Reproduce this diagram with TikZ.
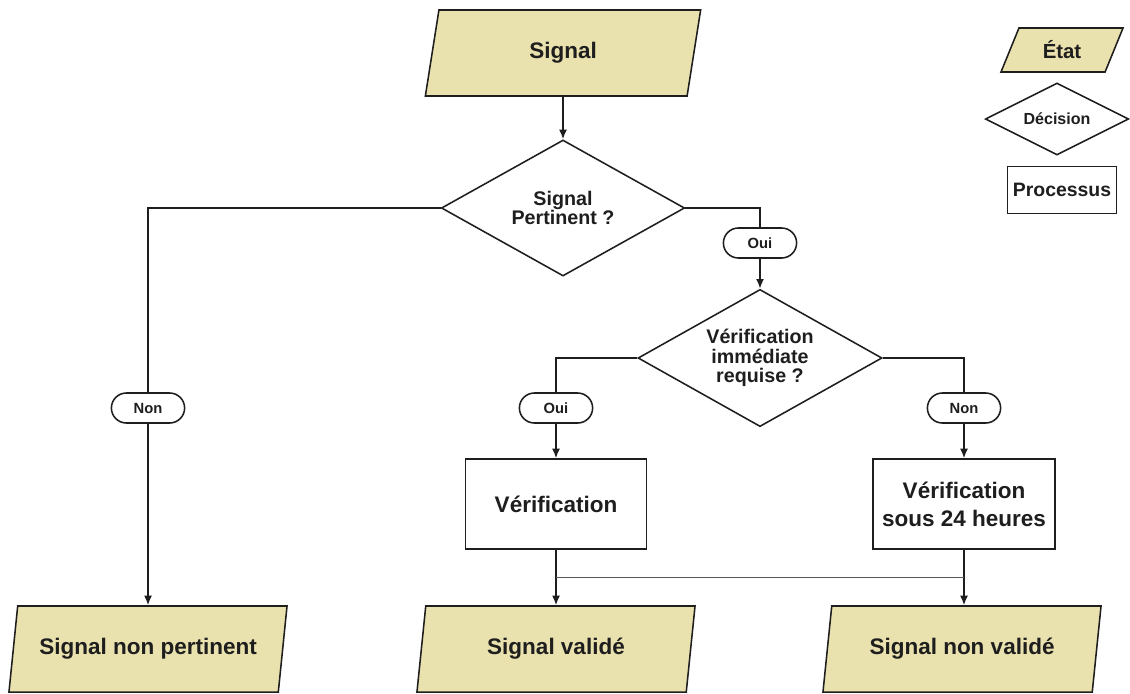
\documentclass[tikz,border=0pt]{standalone}
\usepackage{fontspec}
\setmainfont{Liberation Sans}
\usetikzlibrary{arrows.meta,calc,positioning,shapes.geometric,shapes.misc}
\definecolor{khaki}{HTML}{EAE2AE}
\definecolor{ink}{HTML}{1E1E1E}

\begin{document}
\begin{tikzpicture}[x=0.025cm,y=-0.025cm,>={Latex[length=2.4mm,width=2mm]},
    color=ink,line width=1.1pt,
    etat/.style={trapezium,trapezium stretches body,draw,fill=khaki,
      minimum width=6.95cm,minimum height=2.15cm,inner xsep=2pt,
      font=\bfseries\fontsize{16}{19}\selectfont},
    decision/.style={diamond,draw,fill=white,aspect=1.8,inner sep=0pt,
      minimum width=6.08cm,minimum height=3.4cm,align=center,
      font=\bfseries\fontsize{14}{13.8}\selectfont},
    processus/.style={rectangle,draw,fill=white,minimum width=4.53cm,
      minimum height=2.25cm,align=center,
      font=\bfseries\fontsize{16}{20}\selectfont},
    pill/.style={rounded rectangle,draw,fill=white,minimum width=1.9cm,
      minimum height=0.75cm,inner sep=1pt,
      font=\bfseries\fontsize{10.5}{12}\selectfont}]
  \useasboundingbox (0,0) rectangle (1130,693);

  % main chart
  \node[etat,trapezium left angle=66,trapezium right angle=114,minimum width=6.88cm] (signal) at (563,53) {Signal};
  \node[decision] (pert) at (563,208) {Signal\\Pertinent ?};
  \node[pill] (oui1) at (760,243) {Oui};
  \node[decision,minimum width=6.1cm,minimum height=3.43cm] (immed) at (760,358) {V\'erification\\imm\'ediate\\requise ?};
  \node[pill] (non1) at (148,408) {Non};
  \node[pill] (oui2) at (556,408) {Oui};
  \node[pill] (non2) at (964,408) {Non};
  \node[processus] (verif) at (556,504) {V\'erification};
  \node[processus,minimum width=4.55cm] (verif24) at (964,504) {V\'erification\\sous 24 heures};
  \node[etat,trapezium left angle=74,trapezium right angle=106] (nonpert) at (148,649) {Signal non pertinent};
  \node[etat,trapezium left angle=74,trapezium right angle=106] (valide) at (556,649) {Signal valid\'e};
  \node[etat,trapezium left angle=74,trapezium right angle=106] (nonvalide) at (962,649) {Signal non valid\'e};

  \draw[->] (signal) -- (pert);
  \draw (pert.west) -| (non1);
  \draw[->] (non1) -- (nonpert);
  \draw (pert.east) -| (oui1);
  \draw[->] (oui1) -- (immed);
  \draw (immed.west) -| (oui2);
  \draw[->] (oui2) -- (verif);
  \draw (immed.east) -| (non2);
  \draw[->] (non2) -- (verif24);
  \draw[->] (verif) -- (valide);
  \draw[->] (verif24.south) -- (verif24.south |- nonvalide.north);
  \coordinate (lien1) at ($(verif.south)!.5!(valide.north)$);
  \coordinate (lien2) at (verif24.south |- lien1);
  \draw[line width=0.6pt,gray!70!black] (lien1) -- (lien2);

  % legend
  \node[etat,trapezium left angle=57,trapezium right angle=123,minimum width=3.05cm,
    minimum height=1.1cm,font=\bfseries\fontsize{14.5}{17}\selectfont] (leg1) at (1062,50) {\'Etat};
  \node[decision,aspect=2,minimum width=3.58cm,minimum height=1.8cm,
    font=\bfseries\fontsize{11.4}{13}\selectfont] (leg2) at (1057,119) {D\'ecision};
  \node[processus,minimum width=2.73cm,minimum height=1.18cm,inner sep=2pt,
    font=\bfseries\fontsize{13.8}{16}\selectfont] (leg3) at (1062,190) {Processus};
\end{tikzpicture}
\end{document}
